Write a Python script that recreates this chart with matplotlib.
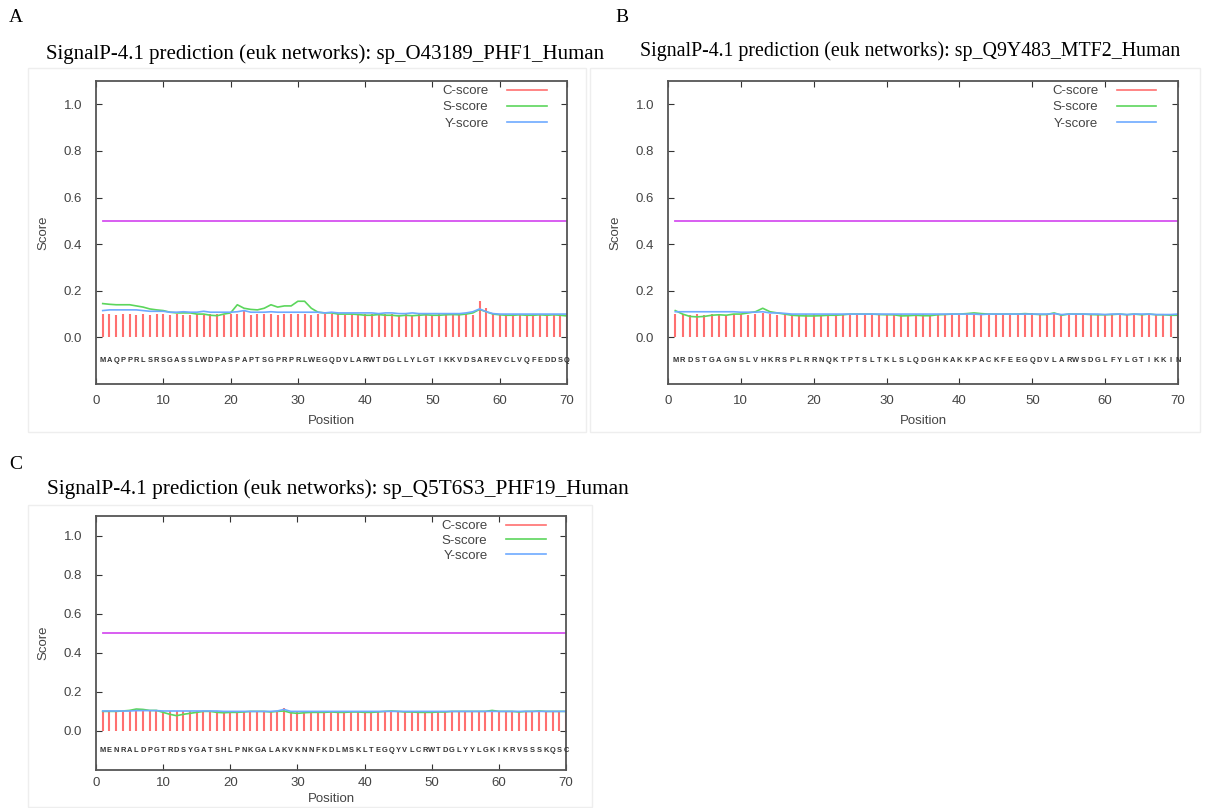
import numpy as np
import matplotlib
matplotlib.use('Agg')
import matplotlib.pyplot as plt
from matplotlib.lines import Line2D
from matplotlib.patches import Rectangle


positions = list(range(1, 71))

seq_a = "MAQPPRLSRSGASSLWDPASPAPTSGPRPRLWEGQDVLARWTDGLLYLGTIKKVDSAREVCLVQFEDDSQ"
seq_b = "MRDSTGAGNSLVHKRSPLRRNQKTPTSLTKLSLQDGHKAKKPACKFEEGQDVLARWSDGLFYLGTIKKIN"
seq_c = "MENRALDPGTRDSYGATSHLPNKGALAKVKNNFKDLMSKLTEGQYVLCRWTDGLYYLGKIKRVSSSKQSC"

titles = ["SignalP-4.1 prediction (euk networks): sp_O43189_PHF1_Human",
          "SignalP-4.1 prediction (euk networks): sp_Q9Y483_MTF2_Human",
          "SignalP-4.1 prediction (euk networks): sp_Q5T6S3_PHF19_Human"]
panel_letters = ["A", "B", "C"]

# C-score (impulses)
c_a = [0.10, 0.10, 0.095, 0.10, 0.10, 0.095, 0.10, 0.095, 0.10, 0.10,
       0.095, 0.10, 0.095, 0.095, 0.10, 0.095, 0.10, 0.10, 0.095, 0.10,
       0.10, 0.118, 0.095, 0.10, 0.10, 0.10, 0.095, 0.10, 0.10, 0.10,
       0.10, 0.095, 0.10, 0.10, 0.10, 0.10, 0.095, 0.10, 0.095, 0.10,
       0.10, 0.095, 0.10, 0.10, 0.095, 0.10, 0.095, 0.10, 0.10, 0.095,
       0.10, 0.10, 0.095, 0.10, 0.10, 0.095, 0.155, 0.125, 0.10, 0.095,
       0.10, 0.10, 0.095, 0.10, 0.10, 0.095, 0.10, 0.095, 0.10, 0.10]
s_a = [0.145, 0.142, 0.14, 0.14, 0.14, 0.135, 0.13, 0.122, 0.118, 0.115,
       0.108, 0.105, 0.105, 0.105, 0.10, 0.10, 0.095, 0.093, 0.10, 0.105,
       0.14, 0.125, 0.12, 0.118, 0.125, 0.14, 0.13, 0.135, 0.135, 0.155,
       0.155, 0.125, 0.108, 0.105, 0.105, 0.10, 0.10, 0.10, 0.098, 0.095,
       0.095, 0.098, 0.095, 0.095, 0.092, 0.095, 0.093, 0.095, 0.097, 0.095,
       0.095, 0.097, 0.098, 0.097, 0.10, 0.105, 0.12, 0.11, 0.10, 0.097,
       0.095, 0.095, 0.097, 0.095, 0.095, 0.097, 0.095, 0.097, 0.095, 0.092]
y_a = [0.115, 0.118, 0.118, 0.118, 0.118, 0.118, 0.115, 0.112, 0.112, 0.112,
       0.108, 0.108, 0.11, 0.108, 0.108, 0.112, 0.108, 0.108, 0.108, 0.108,
       0.11, 0.115, 0.108, 0.108, 0.108, 0.11, 0.108, 0.108, 0.108, 0.108,
       0.108, 0.108, 0.108, 0.105, 0.108, 0.105, 0.105, 0.105, 0.105, 0.105,
       0.105, 0.102, 0.105, 0.105, 0.102, 0.102, 0.105, 0.102, 0.102, 0.102,
       0.102, 0.102, 0.102, 0.102, 0.105, 0.11, 0.122, 0.11, 0.102, 0.10,
       0.10, 0.10, 0.10, 0.10, 0.10, 0.10, 0.10, 0.10, 0.10, 0.10]

c_b = [0.10, 0.10, 0.095, 0.10, 0.095, 0.10, 0.10, 0.095, 0.10, 0.10,
       0.095, 0.10, 0.105, 0.10, 0.095, 0.10, 0.10, 0.095, 0.10, 0.10,
       0.095, 0.10, 0.10, 0.10, 0.095, 0.10, 0.10, 0.10, 0.10, 0.095,
       0.10, 0.10, 0.095, 0.10, 0.10, 0.095, 0.10, 0.10, 0.095, 0.10,
       0.10, 0.10, 0.095, 0.10, 0.10, 0.10, 0.095, 0.10, 0.10, 0.105,
       0.10, 0.095, 0.10, 0.10, 0.095, 0.10, 0.10, 0.095, 0.10, 0.10,
       0.095, 0.10, 0.10, 0.095, 0.10, 0.10, 0.095, 0.095, 0.095, 0.095]
s_b = [0.115, 0.10, 0.09, 0.088, 0.09, 0.095, 0.097, 0.095, 0.10, 0.10,
       0.105, 0.11, 0.125, 0.11, 0.105, 0.10, 0.095, 0.093, 0.092, 0.092,
       0.093, 0.095, 0.095, 0.097, 0.10, 0.10, 0.10, 0.10, 0.098, 0.097,
       0.097, 0.092, 0.093, 0.095, 0.093, 0.093, 0.097, 0.098, 0.10, 0.10,
       0.102, 0.105, 0.102, 0.10, 0.10, 0.10, 0.10, 0.10, 0.102, 0.10,
       0.098, 0.098, 0.105, 0.095, 0.10, 0.10, 0.10, 0.098, 0.097, 0.097,
       0.098, 0.10, 0.097, 0.10, 0.097, 0.10, 0.097, 0.097, 0.095, 0.095]
y_b = [0.11, 0.11, 0.11, 0.11, 0.11, 0.11, 0.11, 0.11, 0.11, 0.108,
       0.108, 0.108, 0.11, 0.105, 0.105, 0.103, 0.10, 0.10, 0.10, 0.10,
       0.10, 0.10, 0.10, 0.10, 0.10, 0.10, 0.10, 0.10, 0.10, 0.10,
       0.10, 0.10, 0.10, 0.10, 0.10, 0.10, 0.10, 0.10, 0.10, 0.10,
       0.10, 0.10, 0.098, 0.10, 0.10, 0.10, 0.10, 0.10, 0.10, 0.10,
       0.10, 0.10, 0.102, 0.098, 0.10, 0.10, 0.10, 0.10, 0.10, 0.098,
       0.10, 0.10, 0.098, 0.10, 0.10, 0.10, 0.098, 0.098, 0.098, 0.10]

c_c = [0.10, 0.10, 0.10, 0.10, 0.10, 0.10, 0.10, 0.10, 0.10, 0.10,
       0.10, 0.10, 0.10, 0.10, 0.10, 0.10, 0.10, 0.10, 0.10, 0.10,
       0.10, 0.10, 0.10, 0.10, 0.10, 0.10, 0.10, 0.118, 0.10, 0.10,
       0.10, 0.10, 0.10, 0.10, 0.10, 0.10, 0.10, 0.10, 0.10, 0.10,
       0.10, 0.10, 0.10, 0.10, 0.10, 0.10, 0.10, 0.10, 0.10, 0.10,
       0.10, 0.10, 0.10, 0.10, 0.10, 0.10, 0.10, 0.10, 0.10, 0.10,
       0.10, 0.10, 0.10, 0.10, 0.10, 0.10, 0.10, 0.10, 0.10, 0.10]
s_c = [0.10, 0.10, 0.10, 0.102, 0.105, 0.112, 0.11, 0.105, 0.105, 0.095,
       0.085, 0.078, 0.085, 0.09, 0.095, 0.10, 0.10, 0.095, 0.093, 0.095,
       0.095, 0.097, 0.10, 0.10, 0.10, 0.097, 0.10, 0.102, 0.093, 0.09,
       0.093, 0.095, 0.095, 0.095, 0.097, 0.095, 0.095, 0.097, 0.097, 0.095,
       0.095, 0.097, 0.10, 0.102, 0.10, 0.097, 0.097, 0.095, 0.095, 0.095,
       0.097, 0.097, 0.10, 0.10, 0.10, 0.10, 0.10, 0.10, 0.105, 0.10,
       0.10, 0.10, 0.097, 0.10, 0.10, 0.102, 0.10, 0.10, 0.10, 0.10]
y_c = [0.102, 0.102, 0.102, 0.102, 0.102, 0.104, 0.104, 0.104, 0.104, 0.102,
       0.102, 0.102, 0.102, 0.102, 0.102, 0.102, 0.102, 0.102, 0.10, 0.10,
       0.10, 0.10, 0.10, 0.10, 0.10, 0.10, 0.102, 0.11, 0.10, 0.10,
       0.10, 0.10, 0.10, 0.10, 0.10, 0.10, 0.10, 0.10, 0.10, 0.10,
       0.10, 0.10, 0.10, 0.10, 0.10, 0.10, 0.10, 0.10, 0.10, 0.10,
       0.10, 0.10, 0.10, 0.10, 0.10, 0.10, 0.10, 0.10, 0.10, 0.10,
       0.10, 0.10, 0.10, 0.10, 0.10, 0.10, 0.10, 0.10, 0.10, 0.10]

cutoff = 0.5

RED = '#ff7070'
GREEN = '#5cd65c'
BLUE = '#6eaaff'
MAGENTA = '#d650f0'
W, H = 1211, 808


def px_axes(fig, left, top, right, bottom):
	return fig.add_axes([left / W, 1 - bottom / H, (right - left) / W, (bottom - top) / H])


def plot_panel(ax, seq, c, s, y, fs=9.5, xpad=8, xlabelpad=6, legspace=0.3):
	ax.vlines(positions, 0, c, color=RED, lw=1.5)
	ax.plot(positions, s, color=GREEN, lw=1.2)
	ax.plot(positions, y, color=BLUE, lw=1.2)
	ax.plot([positions[0], positions[-1]], [cutoff, cutoff], color=MAGENTA, lw=1.3)

	for i, aa in zip(positions, seq):
		ax.text(i, -0.1, aa, ha='center', va='center', fontsize=5.4,
				fontweight='bold', color='#333333', family='Liberation Sans')

	ax.set_xlim(0, 70)
	ax.set_ylim(-0.2, 1.1)
	ax.set_xticks(range(0, 71, 10))
	ax.set_yticks([0.0, 0.2, 0.4, 0.6, 0.8, 1.0])
	ax.set_yticklabels(['0.0', '0.2', '0.4', '0.6', '0.8', '1.0'])
	ax.tick_params(direction='in', top=True, right=True, length=4, width=0.8,
				   labelsize=fs, colors='#333333', labelcolor='#444444')
	ax.tick_params(axis='y', pad=10)
	ax.tick_params(axis='x', pad=xpad)
	for sp in ax.spines.values():
		sp.set_color('#555555')
		sp.set_linewidth(1.3)
	ax.set_xlabel('Position', fontsize=fs, color='#444444', labelpad=xlabelpad)
	ax.set_ylabel('Score', fontsize=fs, color='#444444', labelpad=10)

	handles = [Line2D([], [], color=RED, lw=1.2),
			   Line2D([], [], color=GREEN, lw=1.2),
			   Line2D([], [], color=BLUE, lw=1.2)]
	leg = ax.legend(handles, ['C-score', 'S-score', 'Y-score'], loc='upper right',
					markerfirst=False, frameon=False, fontsize=fs, handlelength=3.0,
					labelspacing=legspace, borderaxespad=0.0, handletextpad=1.4,
					borderpad=0.3, bbox_to_anchor=(0.965, 1.0))
	for t in leg.get_texts():
		t.set_color('#444444')


def main():
	plt.rcParams['font.family'] = ['Liberation Sans', 'DejaVu Sans']
	fig = plt.figure(figsize=(W / 100, H / 100), dpi=100)

	# faint frames of the three screenshots
	for (x0, y0, x1, y1) in [(28, 68, 586, 432), (590, 68, 1200, 432), (28, 505, 592, 807)]:
		fig.patches.append(Rectangle((x0 / W, 1 - y1 / H), (x1 - x0) / W, (y1 - y0) / H,
									 transform=fig.transFigure, fill=False,
									 edgecolor='#eeeeee', lw=1))

	ax_a = px_axes(fig, 96, 81, 567, 384)
	ax_b = px_axes(fig, 668, 81, 1178, 384)
	ax_c = px_axes(fig, 96, 516, 566, 770)

	plot_panel(ax_a, seq_a, c_a, s_a, y_a)
	plot_panel(ax_b, seq_b, c_b, s_b, y_b)
	plot_panel(ax_c, seq_c, c_c, s_c, y_c, xpad=5, xlabelpad=3, legspace=0.2)

	serif = 'Liberation Serif'
	fig.text(325 / W, 1 - 54 / H, titles[0], ha='center', va='center', fontsize=15, family=serif)
	fig.text(910 / W, 1 - 51 / H, titles[1], ha='center', va='center', fontsize=14.3, family=serif)
	fig.text(338 / W, 1 - 489 / H, titles[2], ha='center', va='center', fontsize=15.3, family=serif)
	fig.text(16 / W, 1 - 18 / H, panel_letters[0], ha='center', va='center', fontsize=14, family=serif)
	fig.text(622 / W, 1 - 18 / H, panel_letters[1], ha='center', va='center', fontsize=14, family=serif)
	fig.text(16 / W, 1 - 465 / H, panel_letters[2], ha='center', va='center', fontsize=14, family=serif)

	fig.savefig('out.png', dpi=100)


if __name__ == '__main__':
	main()
